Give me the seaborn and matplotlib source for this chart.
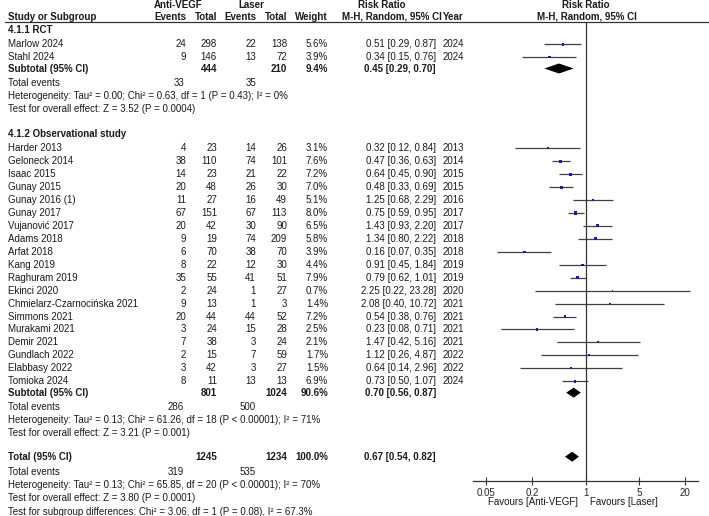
import matplotlib
matplotlib.use('Agg')

import matplotlib.pyplot as plt
import numpy as np
import pandas as pd
import seaborn as sns
from matplotlib.ticker import NullLocator

sns.set_style("white")
plt.rcParams['font.family'] = ['Liberation Sans', 'DejaVu Sans']
plt.rcParams['font.size'] = 7

# ---- data ----
rct_names = ["Marlow 2024", "Stahl 2024"]
rct_ev_a = [24, 9]
rct_tot_a = [298, 146]
rct_ev_l = [22, 13]
rct_tot_l = [138, 72]
rct_weight = [5.6, 3.9]
rct_rr = [0.51, 0.34]
rct_lo = [0.29, 0.15]
rct_hi = [0.87, 0.76]
rct_year = [2024, 2024]

obs_names = ["Harder 2013", "Geloneck 2014", "Isaac 2015", "Gunay 2015", "Gunay 2016 (1)",
             "Gunay 2017", "Vujanović 2017", "Adams 2018", "Arfat 2018", "Kang 2019",
             "Raghuram 2019", "Ekinci 2020", "Chmielarz-Czarnocińska 2021", "Simmons 2021",
             "Murakami 2021", "Demir 2021", "Gundlach 2022", "Elabbasy 2022", "Tomioka 2024"]
obs_ev_a = [4, 38, 14, 20, 11, 67, 20, 9, 6, 8, 35, 2, 9, 20, 3, 7, 2, 3, 8]
obs_tot_a = [23, 110, 23, 48, 27, 151, 42, 19, 70, 22, 55, 24, 13, 44, 24, 38, 15, 42, 11]
obs_ev_l = [14, 74, 21, 26, 16, 67, 30, 74, 38, 12, 41, 1, 1, 44, 15, 3, 7, 3, 13]
obs_tot_l = [26, 101, 22, 30, 49, 113, 90, 209, 70, 30, 51, 27, 3, 52, 28, 24, 59, 27, 13]
obs_weight = [3.1, 7.6, 7.2, 7.0, 5.1, 8.0, 6.5, 5.8, 3.9, 4.4, 7.9, 0.7, 1.4, 7.2, 2.5, 2.1, 1.7, 1.5, 6.9]
obs_rr = [0.32, 0.47, 0.64, 0.48, 1.25, 0.75, 1.43, 1.34, 0.16, 0.91, 0.79, 2.25, 2.08, 0.54, 0.23, 1.47, 1.12, 0.64, 0.73]
obs_lo = [0.12, 0.36, 0.45, 0.33, 0.68, 0.59, 0.93, 0.80, 0.07, 0.45, 0.62, 0.22, 0.40, 0.38, 0.08, 0.42, 0.26, 0.14, 0.50]
obs_hi = [0.84, 0.63, 0.90, 0.69, 2.29, 0.95, 2.20, 2.22, 0.35, 1.84, 1.01, 23.28, 10.72, 0.76, 0.71, 5.16, 4.87, 2.96, 1.07]
obs_year = [2013, 2014, 2015, 2015, 2016, 2017, 2017, 2018, 2018, 2019, 2019, 2020, 2021, 2021, 2021, 2021, 2022, 2022, 2024]

group_titles = ["4.1.1 RCT", "4.1.2 Observational study"]
sub_tot_a = [444, 801]
sub_tot_l = [210, 1024]
sub_weight = [9.4, 90.6]
sub_rr = [0.45, 0.70]
sub_lo = [0.29, 0.56]
sub_hi = [0.70, 0.87]
sub_ev_a = [33, 286]
sub_ev_l = [35, 500]
sub_het = ["Heterogeneity: Tau² = 0.00; Chi² = 0.63, df = 1 (P = 0.43); I² = 0%",
           "Heterogeneity: Tau² = 0.13; Chi² = 61.26, df = 18 (P < 0.00001); I² = 71%"]
sub_z = ["Test for overall effect: Z = 3.52 (P = 0.0004)",
         "Test for overall effect: Z = 3.21 (P = 0.001)"]

total_tot_a, total_tot_l, total_weight = 1245, 1234, 100.0
total_rr, total_lo, total_hi = 0.67, 0.54, 0.82
total_ev_a, total_ev_l = 319, 535
total_het = "Heterogeneity: Tau² = 0.13; Chi² = 65.85, df = 20 (P < 0.00001); I² = 70%"
total_z = "Test for overall effect: Z = 3.80 (P = 0.0001)"
subgroup_test = "Test for subgroup differences: Chi² = 3.06, df = 1 (P = 0.08), I² = 67.3%"

ticks = [0.05, 0.2, 1, 5, 20]

# ---- layout (pixel columns) ----
W, H = 709, 516
X_NAME, X_EVA, X_TOTA, X_EVL, X_TOTL, X_W, X_RR, X_YEAR = 8, 186, 217, 256, 287, 328, 436, 443
TOP, AX_Y = 22, 481
AX_L, AX_R = 472.7, 698.3

fig = plt.figure(figsize=(W / 100, H / 100), dpi=100)
tax = fig.add_axes([0, 0, 1, 1])
tax.set_xlim(0, W)
tax.set_ylim(H, 0)
tax.axis('off')

fax = fig.add_axes([AX_L / W, (H - AX_Y) / H, (AX_R - AX_L) / W, (AX_Y - TOP) / H])
fax.set_facecolor('none')
fax.set_xscale('log')
fax.set_xlim(1 / 29.7, 29.7)
fax.set_ylim(AX_Y, TOP)


def txt(x, y, s, ha='left', bold=False):
    tax.text(x, y, s, ha=ha, va='center', fontweight='bold' if bold else 'normal', color='#1a1a1a')


def rr_str(r, lo, hi):
    return f"{r:.2f} [{lo:.2f}, {hi:.2f}]"


def diamond(r, lo, hi, y, h=5):
    fax.fill([lo, r, hi, r], [y, y - h, y, y + h], color='black', lw=0)


# headers
txt(178, 5, "Anti-VEGF", 'center', True)
txt(251.5, 5, "Laser", 'center', True)
txt(382, 5, "Risk Ratio", 'center', True)
txt(586, 5, "Risk Ratio", 'center', True)
txt(X_NAME, 16.5, "Study or Subgroup", bold=True)
txt(X_EVA, 16.5, "Events", 'right', True)
txt(X_TOTA, 16.5, "Total", 'right', True)
txt(X_EVL, 16.5, "Events", 'right', True)
txt(X_TOTL, 16.5, "Total", 'right', True)
txt(X_W, 16.5, "Weight", 'right', True)
txt(392, 16.5, "M-H, Random, 95% CI", 'center', True)
txt(X_YEAR, 16.5, "Year", bold=True)
txt(587, 16.5, "M-H, Random, 95% CI", 'center', True)
tax.plot([5, W], [TOP, TOP], color='#333333', lw=0.9)

groups = [
    (rct_names, rct_ev_a, rct_tot_a, rct_ev_l, rct_tot_l, rct_weight, rct_rr, rct_lo, rct_hi, rct_year),
    (obs_names, obs_ev_a, obs_tot_a, obs_ev_l, obs_tot_l, obs_weight, obs_rr, obs_lo, obs_hi, obs_year),
]

rows = []
y = 30
for g, (names, eva, tota, evl, totl, wt, rr, lo, hi, yr) in enumerate(groups):
    txt(X_NAME, y, group_titles[g], bold=True)
    y += 14.2
    for i in range(len(names)):
        txt(X_NAME, y, names[i])
        txt(X_EVA, y, str(eva[i]), 'right')
        txt(X_TOTA, y, str(tota[i]), 'right')
        txt(X_EVL, y, str(evl[i]), 'right')
        txt(X_TOTL, y, str(totl[i]), 'right')
        txt(X_W, y, f"{wt[i]:.1f}%", 'right')
        txt(X_RR, y, rr_str(rr[i], lo[i], hi[i]), 'right')
        txt(X_YEAR, y, str(yr[i]))
        rows.append({'rr': rr[i], 'lo': lo[i], 'hi': hi[i], 'weight': wt[i], 'y': y})
        y += 12.95
    y -= 1.6
    txt(X_NAME, y, "Subtotal (95% CI)", bold=True)
    txt(X_TOTA, y, str(sub_tot_a[g]), 'right', True)
    txt(X_TOTL, y, str(sub_tot_l[g]), 'right', True)
    txt(X_W, y, f"{sub_weight[g]:.1f}%", 'right', True)
    txt(X_RR, y, rr_str(sub_rr[g], sub_lo[g], sub_hi[g]), 'right', True)
    diamond(sub_rr[g], sub_lo[g], sub_hi[g], y)
    y += 14.5
    txt(X_NAME, y, "Total events")
    txt(X_EVA - 2, y, str(sub_ev_a[g]), 'right')
    txt(X_EVL, y, str(sub_ev_l[g]), 'right')
    y += 13.2
    txt(X_NAME, y, sub_het[g])
    y += 12.8
    txt(X_NAME, y, sub_z[g])
    y += 25

y = 456.7
txt(X_NAME, y, "Total (95% CI)", bold=True)
txt(X_TOTA, y, str(total_tot_a), 'right', True)
txt(X_TOTL, y, str(total_tot_l), 'right', True)
txt(X_W, y, f"{total_weight:.1f}%", 'right', True)
txt(X_RR, y, rr_str(total_rr, total_lo, total_hi), 'right', True)
diamond(total_rr, total_lo, total_hi, y)
txt(X_NAME, 471.7, "Total events")
txt(X_EVA - 2, 471.7, str(total_ev_a), 'right')
txt(X_EVL, 471.7, str(total_ev_l), 'right')
txt(X_NAME, 485, total_het)
txt(X_NAME, 498.3, total_z)
txt(X_NAME, 511.7, subgroup_test)

# forest marks
df = pd.DataFrame(rows)
fax.hlines(df['y'], df['lo'], df['hi'], color='#404040', lw=0.9, zorder=2)
sns.scatterplot(data=df, x='rr', y='y', size='weight', sizes=(1.2, 5), marker='s',
                color='#1a1ab0', linewidth=0, legend=False, ax=fax, zorder=3)
fax.axvline(1, color='#333333', lw=0.9, zorder=1)

fax.set_xlabel('')
fax.set_ylabel('')
fax.set_xticks(ticks)
fax.set_xticklabels([f"{t:g}" for t in ticks])
fax.xaxis.set_minor_locator(NullLocator())
fax.set_yticks([])
fax.tick_params(axis='x', direction='inout', length=6, width=0.8, pad=2, labelsize=7,
                color='#333333', bottom=True)
for s in ['top', 'right', 'left']:
    fax.spines[s].set_visible(False)
fax.spines['bottom'].set_color('#333333')
fax.spines['bottom'].set_linewidth(0.9)

txt(578, 502, "Favours [Anti-VEGF]", 'right')
txt(590, 502, "Favours [Laser]")

plt.savefig('out.png', dpi=100)
